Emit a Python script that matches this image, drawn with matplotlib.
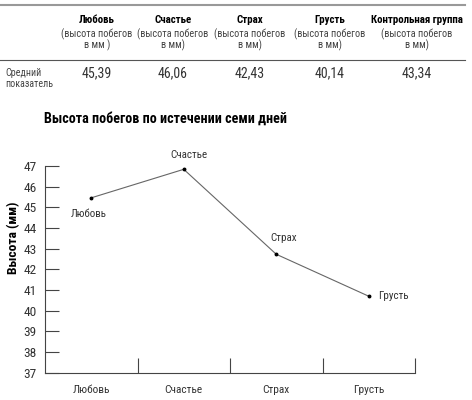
import matplotlib
matplotlib.use("Agg")
import matplotlib.pyplot as plt
from matplotlib import font_manager as fm

names = {f.name for f in fm.fontManager.ttflist}
FONT = next((n for n in ["Roboto Condensed", "Liberation Sans Narrow", "DejaVu Sans Condensed",
                         "Open Sans Condensed", "Roboto", "DejaVu Sans"] if n in names), "DejaVu Sans")
plt.rcParams['font.family'] = [FONT, 'DejaVu Sans']

# Table data
table_cols = ["Любовь", "Счастье", "Страх", "Грусть", "Контрольная группа"]
table_sub = ["(высота побегов\nв мм )", "(высота побегов\nв мм)", "(высота побегов\nв мм)",
             "(высота побегов\nв мм)", "(высота побегов\nв мм)"]
table_vals = ["45,39", "46,06", "42,43", "40,14", "43,34"]
row_label = "Средний\nпоказатель"

# Chart data
categories = ["Любовь", "Счастье", "Страх", "Грусть"]
values = [45.46, 46.84, 42.73, 40.70]
yticks = list(range(37, 48))

W, H = 472, 400
fig = plt.figure(figsize=(W / 100, H / 100), dpi=100)

def fx(x): return x / W
def fy(y): return 1 - y / H

# table
fig.add_artist(plt.Line2D([fx(0), fx(465)], [fy(5), fy(5)], color="#999999", lw=1.5))
fig.add_artist(plt.Line2D([fx(0), fx(465)], [fy(60), fy(60)], color="#555555", lw=0.8))
col_x = [97, 173, 250, 330, 417]
for cx, c, s, v in zip(col_x, table_cols, table_sub, table_vals):
    fig.text(fx(cx), fy(20), c, ha="center", va="center", fontsize=7.8, fontweight="bold")
    fig.text(fx(cx), fy(40), s, ha="center", va="center", fontsize=7.4, color="#444444", linespacing=0.95)
    fig.text(fx(cx), fy(73), v, ha="center", va="center", fontsize=10, color="#333333")
fig.text(fx(5), fy(78.5), row_label, ha="left", va="center", fontsize=7.2, color="#444444", linespacing=1.15)

fig.text(fx(166), fy(119), "Высота побегов по истечении семи дней", ha="center", va="center",
         fontsize=10.2, fontweight="bold")

ax = fig.add_axes([fx(45), fy(372.7), fx(415) - fx(45), (372.7 - 166) / H])
x = list(range(len(categories)))
ax.plot(x, values, color="#666666", lw=0.8, marker="o", markersize=1.8, markerfacecolor="black",
        markeredgecolor="black", clip_on=False)
ax.set_xlim(-0.5, len(categories) - 0.5)
ax.set_ylim(37, 47)
ax.set_yticks(yticks)
ax.set_yticklabels([str(t) for t in yticks], fontsize=9.6, color="#333333")
ax.tick_params(axis="y", direction="in", length=10, width=0.8, pad=6, color="#444444")
ax.set_xticks(x)
ax.set_xticklabels(categories, fontsize=8.2, color="#333333")
ax.tick_params(axis="x", which="major", length=0, pad=9)
ax.set_xticks([i + 0.5 for i in x], minor=True)
ax.tick_params(axis="x", which="minor", direction="in", length=10.5, width=0.8, color="#444444")
for s in ["top", "right"]:
    ax.spines[s].set_visible(False)
for s in ["left", "bottom"]:
    ax.spines[s].set_color("#444444")
    ax.spines[s].set_linewidth(0.8)
ax.patch.set_alpha(0)
ax.set_ylabel("Высота (мм)", fontsize=9.7, fontweight="bold")
ax.yaxis.set_label_coords(-0.066, 0.654)

# point labels
offsets = [(-2, -8, "center", "top"), (4, 7, "center", "bottom"), (5, 8, "center", "bottom"), (7, 0, "left", "center")]
for xi, v, lab, (dx, dy, ha, va) in zip(x, values, categories, offsets):
    ax.annotate(lab, (xi, v), xytext=(dx, dy), textcoords="offset points", ha=ha, va=va,
                fontsize=7.9, color="#333333")

fig.savefig("out.png", dpi=100, facecolor="white")
